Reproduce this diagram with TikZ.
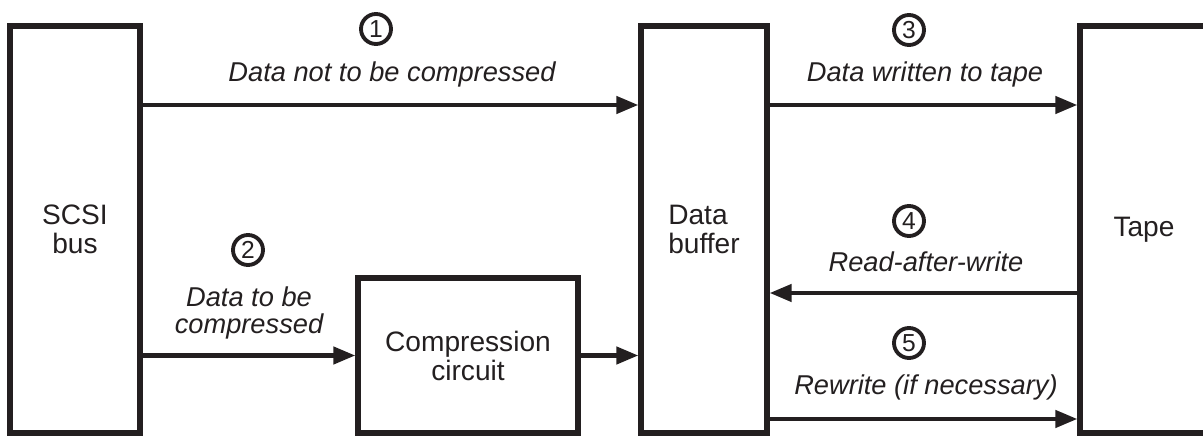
\documentclass[tikz,border=0pt]{standalone}
\usepackage{fontspec}
\setmainfont{Liberation Sans}
\usetikzlibrary{arrows.meta, positioning}
\definecolor{ink}{HTML}{231F20}

\begin{document}
\begin{tikzpicture}[
    box/.style={draw=ink, line width=3pt, align=center, inner sep=0pt,
                text=ink, font=\fontsize{16}{16.5}\selectfont},
    num/.style={circle, draw=ink, line width=2.2pt, minimum size=0.6cm,
                inner sep=0pt, text=ink, font=\fontsize{14}{14}\selectfont},
    lbl/.style={align=center, inner sep=0pt, text=ink,
                font=\fontsize{15.5}{15.5}\selectfont\itshape},
    arr/.style={-{Triangle[length=0.44cm, width=0.34cm]}, line width=2.5pt, draw=ink},
  ]
    \useasboundingbox (0,0) rectangle (24.06,8.72);

    \node[box, minimum width=2.6cm, minimum height=8.14cm] (scsi) at (1.5,4.13)
      {SCSI\\bus};

    \node[box, align=left, minimum width=2.52cm, minimum height=8.14cm] (buffer) at (14.08,4.13)
      {Data\\buffer};

    \node[box, minimum width=2.56cm, minimum height=8.14cm] (tape) at (22.88,4.13)
      {Tape};

    \node[box, minimum width=4.4cm, minimum height=3.1cm] (comp) at (9.36,1.61)
      {Compression\\circuit};

    \coordinate (hi) at (0,6.62);
    \coordinate (rd) at (0,2.86);
    \coordinate (wr) at (0,0.34);

    \node[lbl, anchor=base] (nocomp) at (7.84,7.08) {Data not to be compressed};
    \node[num] (n1) at (7.52,8.14) {1};

    \node[lbl] (tocomp) at (4.98,2.46) {Data to be\\compressed};
    \node[num] (n2) at (4.96,3.72) {2};

    \node[lbl, anchor=base] (written) at (18.5,7.08) {Data written to tape};
    \node[num] (n3) at (18.18,8.12) {3};

    \node[lbl, anchor=base] (raw) at (18.52,3.28) {Read-after-write};
    \node[num] (n4) at (18.18,4.3) {4};

    \node[lbl, anchor=base] (rewrite) at (18.52,0.82) {Rewrite (if necessary)};
    \node[num] (n5) at (18.18,1.86) {5};

    \draw[arr] (scsi.east |- hi)     -- (buffer.west |- hi);
    \draw[arr] (scsi.east |- comp.west) -- (comp.west);
    \draw[arr] (comp.east)           -- (buffer.west |- comp.east);
    \draw[arr] (buffer.east |- hi)   -- (tape.west |- hi);
    \draw[arr] (tape.west |- rd)     -- (buffer.east |- rd);
    \draw[arr] (buffer.east |- wr)   -- (tape.west |- wr);
  \end{tikzpicture}
\end{document}
